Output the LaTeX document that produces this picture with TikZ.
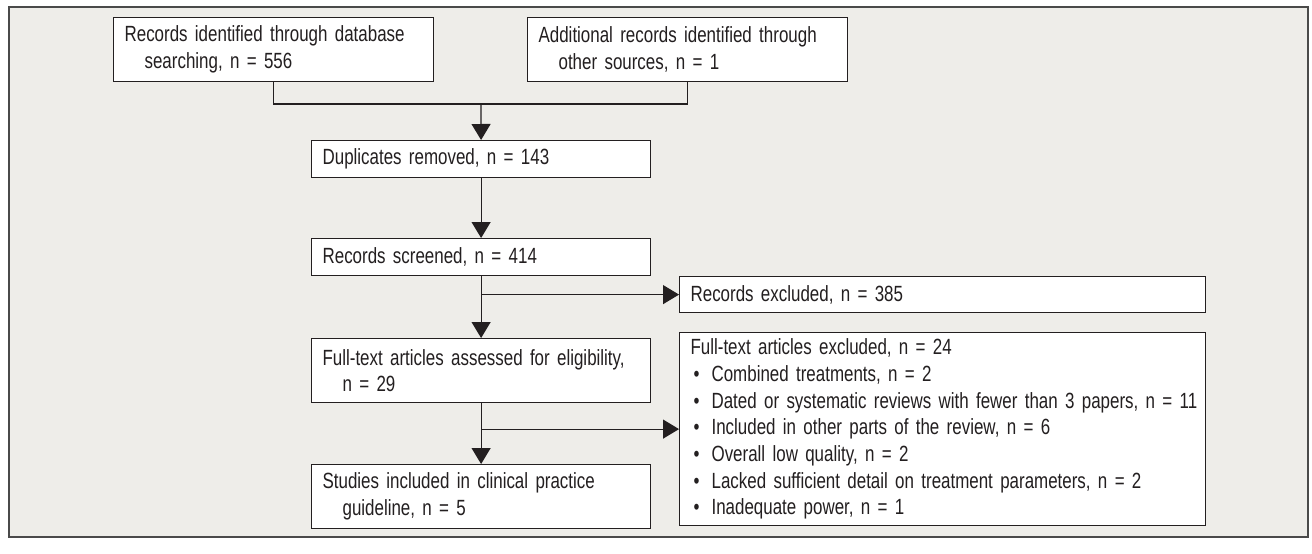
\documentclass[tikz,border=0pt]{standalone}
\usepackage{fontspec}
\setmainfont[FakeStretch=0.77, WordSpace=0.78]{Liberation Sans}
\usetikzlibrary{arrows.meta}
\definecolor{framebg}{HTML}{EEEDE9}
\definecolor{frameline}{HTML}{4A4A4A}
\definecolor{ink}{HTML}{231F20}
\tikzset{
  box/.style={draw=ink, fill=white, line width=1.2pt, inner xsep=11pt, inner ysep=0pt,
    align=left, anchor=north west, text=ink,
    font={\fontsize{22}{26.7}\selectfont}},
  link/.style={draw=ink, line width=1.2pt},
  arr/.style={link, -{Triangle[length=16pt,width=19pt]}}
}
\newcommand{\hang}{\hspace*{20pt}}
\newcommand{\bitem}[1]{\mbox{\makebox[21pt][l]{\hspace*{3pt}\textbullet}#1}}
\begin{document}
\begin{tikzpicture}[x=1pt,y=-1pt]
\useasboundingbox[fill=white] (0,0) rectangle (1312,554);
\draw[fill=framebg, draw=frameline, line width=1.2pt] (9,7) rectangle (1308,537);

\node[box, text width=298pt, minimum height=64pt] (rid) at (113,17)
  {\mbox{Records identified through database}\\\hang searching, n = 556};
\node[box, text width=298pt, minimum height=64pt] (add) at (527,17)
  {\mbox{Additional records identified through}\\\hang other sources, n = 1};
\node[box, text width=317pt, minimum height=37pt] (dup) at (311,140)
  {Duplicates removed, n = 143};
\node[box, text width=317pt, minimum height=37pt] (scr) at (311,238)
  {Records screened, n = 414};
\node[box, text width=504pt, minimum height=36pt] (rex) at (679,276)
  {Records excluded, n = 385};
\node[box, text width=317pt, minimum height=64pt] (fta) at (311,338)
  {\mbox{Full-text articles assessed for eligibility,}\\\hang n = 29};
\node[box, text width=504pt, minimum height=193pt] (fte) at (679,332)
  {Full-text articles excluded, n = 24\\
   \bitem{Combined treatments, n = 2}\\
   \bitem{Dated or systematic reviews with fewer than 3 papers, n = 11}\\
   \bitem{Included in other parts of the review, n = 6}\\
   \bitem{Overall low quality, n = 2}\\
   \bitem{Lacked sufficient detail on treatment parameters, n = 2}\\
   \bitem{Inadequate power, n = 1}};
\node[box, text width=317pt, minimum height=64pt] (stu) at (311,464)
  {\mbox{Studies included in clinical practice}\\\hang guideline, n = 5};

\coordinate (j) at (481,104);
\draw[link] (rid.south) -- (rid.south |- j) -- (add.south |- j) -- (add.south);
\draw[arr] (j) -- (dup.north);
\draw[arr] (dup.south) -- (scr.north);
\draw[arr] (scr.south) -- (fta.north);
\draw[arr] (scr.south |- rex.west) -- (rex.west);
\draw[arr] (fta.south) -- (stu.north);
\draw[arr] (fta.south |- fte.west) -- (fte.west);
\end{tikzpicture}
\end{document}
